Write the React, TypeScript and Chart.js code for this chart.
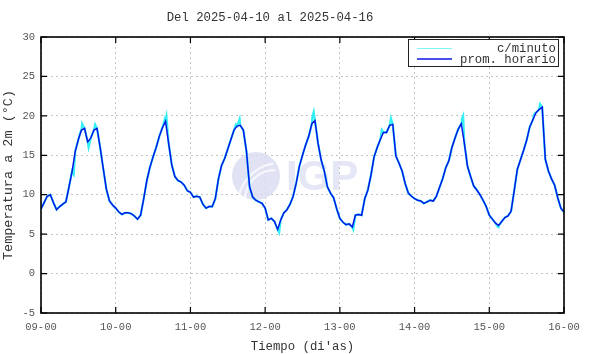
import React, { useEffect, useRef } from "react";
import { Chart, registerables } from "chart.js";

Chart.register(...registerables);

const chartTitle = "Del 2025-04-10 al 2025-04-16";
const dayLabels = ["09-00", "10-00", "11-00", "12-00", "13-00", "14-00", "15-00", "16-00"];
const yTicks = [-5, 0, 5, 10, 15, 20, 25, 30];

// hourly averages, hour 0 = 09-00
const hourlyTemps = [
  8.2, 9.0, 9.8, 10.0, 9.0, 8.1, 8.5, 8.8, 9.1, 11.0, 13.0, 15.5, 17.0, 18.2, 18.4, 16.7, 17.2, 18.2, 18.4, 16.0, 13.3, 10.7, 9.2, 8.7,
  8.3, 7.8, 7.5, 7.7, 7.7, 7.6, 7.3, 6.9, 7.4, 9.5, 11.8, 13.5, 14.8, 16.0, 17.4, 18.5, 19.3, 16.5, 13.8, 12.3, 11.8, 11.6, 11.2, 10.5,
  10.3, 9.7, 9.8, 9.7, 8.8, 8.3, 8.5, 8.5, 9.5, 12.0, 13.7, 14.6, 15.8, 17.0, 18.2, 18.7, 18.8, 18.2, 15.5, 11.0, 9.7, 9.3, 9.1, 8.9,
  8.3, 6.8, 7.0, 6.6, 5.6, 6.8, 7.7, 8.1, 8.8, 9.8, 11.5, 13.6, 15.0, 16.3, 17.4, 19.0, 19.4, 16.5, 14.4, 13.0, 11.0, 10.2, 9.6, 8.2,
  7.0, 6.5, 6.2, 6.3, 5.9, 7.4, 7.5, 7.4, 9.5, 10.6, 12.5, 14.8, 16.0, 17.0, 17.9, 17.9, 18.8, 18.9, 14.9, 14.0, 13.0, 11.4, 10.2, 9.8,
  9.5, 9.3, 9.2, 8.9, 9.1, 9.3, 9.2, 9.8, 10.9, 12.0, 13.4, 14.3, 16.0, 17.2, 18.3, 19.0, 16.5, 13.6, 12.3, 11.1, 10.6, 10.0, 9.3, 8.5,
  7.4, 6.9, 6.4, 6.1, 6.6, 7.1, 7.3, 7.9, 10.5, 13.2, 14.4, 15.6, 16.9, 18.6, 19.5, 20.4, 20.8, 21.1, 14.5, 13.0, 12.0, 11.2, 9.6, 8.3,
  7.8,
];

// per-minute readings that stand out from the hourly mean (hour, value)
const minuteSpikeHours = [10.5, 12.6, 13.2, 15.3, 17.4, 39.8, 40.3, 62.6, 63.8, 76.5, 87.2, 87.6, 100.3, 109.5, 112.4, 135.2, 135.6, 146.8, 158.4, 160.3];
const minuteSpikeTemps = [12.6, 17.9, 19.0, 16.0, 18.9, 19.6, 19.9, 18.9, 19.6, 5.2, 19.9, 20.5, 5.6, 18.2, 19.7, 19.6, 20.0, 5.9, 20.2, 21.5];

export default function App() {
  const ref = useRef<HTMLCanvasElement>(null);

  useEffect(() => {
    if (!ref.current) return;
    const hourly = hourlyTemps.map((v, i) => ({ x: i, y: v }));
    const minute = [
      ...hourly,
      ...minuteSpikeHours.map((h, i) => ({ x: h, y: minuteSpikeTemps[i] })),
    ].sort((a, b) => a.x - b.x);

    const mono = "'Liberation Mono', 'DejaVu Sans Mono', monospace";

    const decor = {
      id: "decor",
      beforeDatasetsDraw(chart: any) {
        const { ctx, chartArea } = chart;
        ctx.save();
        ctx.beginPath();
        ctx.rect(chartArea.left, chartArea.top, chartArea.right - chartArea.left, chartArea.bottom - chartArea.top);
        ctx.clip();
        // faint watermark
        ctx.globalAlpha = 0.8;
        ctx.fillStyle = "#dadcf3";
        ctx.beginPath();
        ctx.arc(256, 176, 24, 0, Math.PI * 2);
        ctx.fill();
        ctx.strokeStyle = "#ffffff";
        ctx.lineWidth = 2;
        ctx.beginPath();
        ctx.arc(275, 200, 30, Math.PI * 1.0, Math.PI * 1.5);
        ctx.stroke();
        ctx.beginPath();
        ctx.arc(280, 205, 42, Math.PI * 1.0, Math.PI * 1.45);
        ctx.stroke();
        ctx.fillStyle = "#e0e1f4";
        ctx.font = "bold 42px 'Liberation Sans', Arial, sans-serif";
        ctx.textBaseline = "middle";
        ctx.textAlign = "left";
        ctx.fillText("IGP", 286, 178);
        ctx.restore();
      },
      afterDraw(chart: any) {
        const { ctx, chartArea, scales } = chart;
        const { left, right, top, bottom } = chartArea;
        ctx.save();
        // frame
        ctx.strokeStyle = "#000000";
        ctx.lineWidth = 1.6;
        ctx.strokeRect(left, top, right - left, bottom - top);
        // inward tick marks
        ctx.lineWidth = 1.2;
        ctx.beginPath();
        for (const t of yTicks) {
          const y = scales.y.getPixelForValue(t);
          ctx.moveTo(left, y);
          ctx.lineTo(left + 6, y);
          ctx.moveTo(right, y);
          ctx.lineTo(right - 6, y);
        }
        for (let i = 0; i < dayLabels.length; i++) {
          const x = scales.x.getPixelForValue(i * 24);
          ctx.moveTo(x, bottom);
          ctx.lineTo(x, bottom - 6);
          ctx.moveTo(x, top);
          ctx.lineTo(x, top + 6);
        }
        ctx.stroke();
        // title
        ctx.fillStyle = "#333333";
        ctx.font = `12.3px ${mono}`;
        ctx.textAlign = "center";
        ctx.textBaseline = "middle";
        ctx.fillText(chartTitle, 270, 18);
        // legend
        ctx.fillStyle = "#ffffff";
        ctx.fillRect(408, 39, 150, 28);
        ctx.strokeStyle = "#222222";
        ctx.lineWidth = 1;
        ctx.strokeRect(408.5, 39.5, 150, 27);
        ctx.lineWidth = 1;
        ctx.strokeStyle = "#7ff5f8";
        ctx.beginPath();
        ctx.moveTo(417, 48.5);
        ctx.lineTo(452, 48.5);
        ctx.stroke();
        ctx.strokeStyle = "#0a14e6";
        ctx.lineWidth = 1.5;
        ctx.beginPath();
        ctx.moveTo(417, 59);
        ctx.lineTo(452, 59);
        ctx.stroke();
        ctx.fillStyle = "#333333";
        ctx.textAlign = "right";
        ctx.fillText("c/minuto", 556, 48.5);
        ctx.fillText("prom. horario", 556, 60);
        ctx.restore();
      },
    };

    const chart = new Chart(ref.current, {
      type: "line",
      data: {
        datasets: [
          {
            label: "prom. horario",
            data: hourly,
            borderColor: "#0a14e6",
            borderWidth: 1.5,
            pointRadius: 0,
            tension: 0,
            order: 0,
          },
          {
            label: "c/minuto",
            data: minute,
            borderColor: "#33eef5",
            borderWidth: 2.2,
            pointRadius: 0,
            tension: 0,
            order: 1,
          },
        ],
      },
      options: {
        animation: false,
        responsive: true,
        maintainAspectRatio: false,
        layout: { padding: { top: 37, right: 26, left: 0, bottom: 0 } },
        plugins: {
          legend: { display: false },
          title: { display: false },
          tooltip: { enabled: false },
        },
        scales: {
          x: {
            type: "linear",
            min: 0,
            max: 168,
            afterFit(scale: any) {
              scale.height = 41;
            },
            ticks: {
              stepSize: 24,
              autoSkip: false,
              maxRotation: 0,
              padding: 8,
              color: "#555555",
              font: { family: mono, size: 10.5 },
              callback: (v: any) => dayLabels[Math.round(Number(v) / 24)] ?? "",
            },
            grid: { color: "#c4c4c4", lineWidth: 1, drawTicks: false },
            border: { display: false, dash: [2, 3] },
            title: {
              display: true,
              text: "Tiempo (di'as)",
              color: "#333333",
              font: { family: mono, size: 12.3 },
              padding: { top: 0, bottom: 0 },
            },
          },
          y: {
            min: -5,
            max: 30,
            afterFit(scale: any) {
              scale.width = 41;
            },
            ticks: {
              stepSize: 5,
              padding: 6,
              color: "#555555",
              font: { family: mono, size: 10.5 },
            },
            grid: { color: "#c4c4c4", lineWidth: 1, drawTicks: false },
            border: { display: false, dash: [2, 3] },
            title: {
              display: true,
              text: "Temperatura a 2m (°C)",
              color: "#333333",
              font: { family: mono, size: 13.5 },
              padding: { top: 0, bottom: 2 },
            },
          },
        },
      },
      plugins: [decor],
    });
    return () => chart.destroy();
  }, []);

  return (
    <div style={{ position: "absolute", left: 0, top: 0, width: 590, height: 354, background: "#ffffff" }}>
      <canvas ref={ref} />
    </div>
  );
}
